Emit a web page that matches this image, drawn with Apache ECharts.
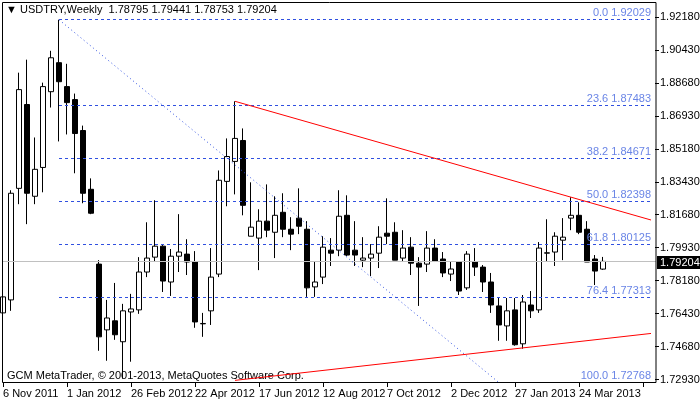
<!DOCTYPE html>
<html><head><meta charset="utf-8">
<script src="https://cdn.jsdelivr.net/npm/echarts@6/dist/echarts.min.js"></script>
<style>html,body{margin:0;padding:0;background:#fff}#c{width:700px;height:402px}</style>
</head><body><div id="c"></div>
<script>
// [open, close, low, high]
const candles = [
[1.7647,1.7732,1.7546,1.8049],[1.7716,1.8282,1.7658,1.8298],[1.8308,1.8832,1.8224,1.8922],[1.8753,1.8282,1.8118,1.8991],
[1.8266,1.8409,1.8224,1.8578],[1.8419,1.8848,1.8287,1.8869],[1.8821,1.9001,1.8737,1.9038],[1.8975,1.8874,1.8557,1.92029],
[1.8848,1.8763,1.8594,1.8969],[1.8779,1.8599,1.8388,1.8811],[1.8615,1.8282,1.8229,1.8641],[1.8303,1.8176,1.8171,1.8361],
[1.7906,1.7520,1.7446,1.7927],[1.7557,1.7620,1.7393,1.7716],[1.7605,1.7531,1.7504,1.7806],[1.7494,1.7658,1.7298,1.7695],
[1.7652,1.7668,1.7388,1.7748],[1.7663,1.7864,1.7642,1.7943],[1.7864,1.7938,1.7837,1.8128],[1.7943,1.8001,1.7917,1.8245],
[1.8001,1.7816,1.7758,1.8007],[1.7811,1.7948,1.7737,1.7986],[1.7948,1.7970,1.7864,1.8171],[1.7959,1.7917,1.7848,1.8038],
[1.7917,1.7599,1.7568,1.7975],[1.7589,1.7591,1.7520,1.7647],[1.7658,1.7837,1.7583,1.7991],[1.7853,1.8351,1.7837,1.8403],
[1.8345,1.8477,1.8213,1.8573],[1.8451,1.8573,1.8276,1.8770],[1.8562,1.8218,1.8165,1.8626],[1.8054,1.8102,1.8054,1.8340],
[1.8044,1.8134,1.7874,1.8197],[1.8134,1.8086,1.8049,1.8329],[1.8075,1.8165,1.7938,1.8266],[1.8181,1.8091,1.8049,1.8282],
[1.8091,1.8065,1.7980,1.8155],[1.8150,1.8107,1.8065,1.8308],[1.8091,1.7780,1.7732,1.8134],[1.7785,1.7811,1.7732,1.7922],
[1.7837,1.7996,1.7800,1.8054],[1.7980,1.7964,1.7896,1.8044],[1.7980,1.8160,1.7948,1.8298],[1.8165,1.7954,1.7948,1.8271],
[1.7980,1.7954,1.7896,1.8134],[1.7927,1.7938,1.7890,1.8049],[1.7938,1.7959,1.7843,1.8012],[1.7964,1.8049,1.7885,1.8107],
[1.8070,1.8054,1.8012,1.8255],[1.8075,1.7927,1.7927,1.8128],[1.7938,1.7991,1.7917,1.8086],[1.7996,1.7911,1.7848,1.8049],
[1.7911,1.7890,1.7684,1.7943],[1.7906,1.7991,1.7864,1.8081],[1.7991,1.7922,1.7917,1.8038],[1.7933,1.7859,1.7837,1.7970],
[1.7853,1.7880,1.7816,1.7922],[1.7917,1.7763,1.7742,1.7917],[1.7780,1.7959,1.7769,1.7975],[1.7917,1.7890,1.7843,1.7991],
[1.7890,1.7811,1.7758,1.7901],[1.7811,1.7689,1.7647,1.7859],[1.7684,1.7583,1.7499,1.7726],[1.7578,1.7658,1.7499,1.7726],
[1.7663,1.7478,1.7473,1.7726],[1.7483,1.7705,1.7457,1.7742],[1.7689,1.7658,1.7620,1.7763],[1.7663,1.7991,1.7647,1.8023],
[1.7964,1.7966,1.7922,1.8144],[1.7970,1.8054,1.7896,1.8075],[1.8033,1.8049,1.7927,1.8150],[1.8150,1.8165,1.8086,1.8261],
[1.8165,1.8075,1.8065,1.8234],[1.8091,1.7917,1.7917,1.8134],[1.7933,1.7869,1.7795,1.7954],[1.78795,1.79204,1.78753,1.79441]
];
const dateLabels = ["6 Nov 2011","1 Jan 2012","26 Feb 2012","22 Apr 2012","17 Jun 2012","12 Aug 2012","7 Oct 2012","2 Dec 2012","27 Jan 2013","24 Mar 2013"];
const priceTicks = [1.72930,1.74680,1.76430,1.78180,1.79930,1.81680,1.83430,1.85180,1.86930,1.88680,1.90430,1.92180];
const fibLevels = [["0.0",1.92029],["23.6",1.87483],["38.2",1.84671],["50.0",1.82398],["61.8",1.80125],["76.4",1.77313],["100.0",1.72768]];
const lastPrice = 1.79204;
const fibTrend = [[7,1.92029],[62,1.72768]];
const upperTrend = [[29,1.8770],[81,1.8140]];
const lowerTrend = [[29,1.7289],[81,1.7538]];

const nCat = 82;
const cats = Array.from({length:nCat},(_,i)=>i);
const data = candles.concat(Array(nCat-candles.length).fill('-'));
const F = 'Liberation Sans';
const blue = '#3050e0';

const fibLines = fibLevels.map(([p,v])=>[
  {coord:[7,v], symbol:'none', label:{show:true, position:'insideEndTop', formatter:p+' '+v.toFixed(5), color:'#6a85e6', fontFamily:F, fontSize:11, distance:[0,1]}},
  {coord:[81,v], symbol:'none'}
]);
const seg = (pts,style)=>[{coord:pts[0],symbol:'none',lineStyle:style,label:{show:false}},{coord:pts[1],symbol:'none'}];

const chart = echarts.init(document.getElementById('c'));
chart.setOption({
  animation:false,
  grid:{left:-1, right:45, top:2, bottom:19, containLabel:false, outerBoundsMode:'none'},
  xAxis:{type:'category', data:cats, boundaryGap:true,
    axisLine:{show:false},
    axisTick:{show:true, interval:7, alignWithLabel:true, length:4, lineStyle:{color:'#000'}},
    axisLabel:{interval:7, formatter:(v,i)=>dateLabels[i/8]||'', align:'left', color:'#000', fontFamily:F, fontSize:11, margin:5}},
  yAxis:{type:'value', position:'right', min:1.7275, max:1.9297, scale:true,
    splitLine:{show:false}, axisLine:{show:false},
    axisTick:{show:true, customValues:priceTicks, length:4, inside:false, lineStyle:{color:'#000'}},
    axisLabel:{customValues:priceTicks, formatter:v=>v.toFixed(5), color:'#000', fontFamily:F, fontSize:11, margin:5}},
  series:[{
    type:'candlestick', data:data, barWidth:5, clip:true,
    itemStyle:{color:'#fff', color0:'#000', borderColor:'#000', borderColor0:'#000', borderWidth:1},
    markLine:{silent:true, symbol:'none', animation:false,
      lineStyle:{type:[3,3], color:blue, width:1},
      data:[
        ...fibLines,
        [{yAxis:lastPrice, x:2, symbol:'none', lineStyle:{type:'solid', color:'#c0c0c0'}, label:{show:false}},{yAxis:lastPrice, x:656, symbol:'none'}],
        seg(fibTrend,{type:[1,3], color:blue, width:1}),
        seg(upperTrend,{type:'solid', color:'#ff0000', width:1}),
        seg(lowerTrend,{type:'solid', color:'#ff0000', width:1})
      ]}
  }],
  graphic:[
    {type:'rect', shape:{x:2.5,y:2.5,width:653.5,height:380}, style:{fill:'none', stroke:'#000', lineWidth:1}, z:100},
    {type:'text', left:6, top:4, style:{text:'▼ USDTRY,Weekly  1.78795 1.79441 1.78753 1.79204', fontFamily:F, fontSize:11, fill:'#000'}},
    {type:'text', left:7, top:370, style:{text:'GCM MetaTrader, © 2001-2013, MetaQuotes Software Corp.', fontFamily:F, fontSize:11, fill:'#000'}},
    {type:'group', left:657, top:256, children:[
      {type:'rect', shape:{x:0,y:0,width:43,height:13}, style:{fill:'#000'}},
      {type:'text', x:3, y:1, style:{text:lastPrice.toFixed(5), fontFamily:F, fontSize:11, fill:'#fff'}}
    ]}
  ]
});
</script></body></html>
